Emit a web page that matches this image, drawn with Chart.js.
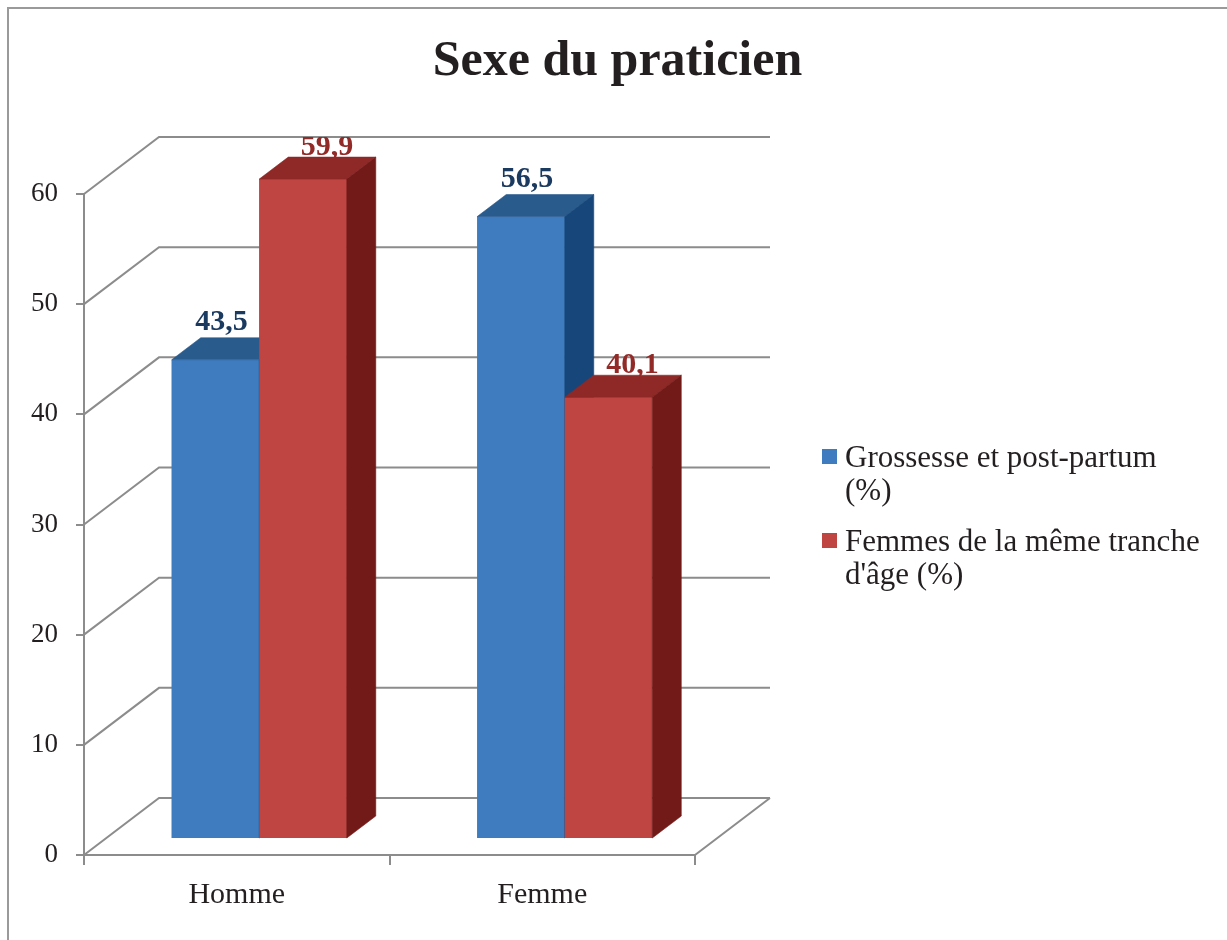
<!DOCTYPE html>
<html><head><meta charset="utf-8">
<script src="https://cdn.jsdelivr.net/npm/chart.js@4.4.0/dist/chart.umd.min.js"></script>
<style>html,body{margin:0;padding:0;background:#fff}canvas{display:block}</style>
</head><body>
<canvas id="c" width="1227" height="940"></canvas>
<script>
// ---- data ----
const chartTitle = 'Sexe du praticien';
const categories = ['Homme', 'Femme'];
const seriesLabels = [['Grossesse et post-partum', '(%)'], ['Femmes de la même tranche', "d'âge (%)"]];
const grossesse = [43.5, 56.5];
const femmesMemeAge = [59.9, 40.1];
const yTicks = [0, 10, 20, 30, 40, 50, 60];

// ---- style ----
const FONT = '"Liberation Serif", "Times New Roman", serif';
const TEXT = '#231f20';
const GRID = '#8c8c8c';
const WALL = {dx: 75, dy: -57};
const SHIFT = {dx: 22.5, dy: -16};
const BDEPTH = {dx: 29, dy: -22};
const FRONT = ['#3F7CBF', '#BF4543'];
const TOP = ['#2A5B8D', '#8E2927'];
const SIDE = ['#17477A', '#721A18'];
const LABEL = ['#1B3A60', '#922B28'];
const LABEL_OFF = [{x: 6, y: -30}, {x: 24, y: -24}];

function poly(ctx, pts, fill) {
  ctx.beginPath();
  ctx.moveTo(pts[0][0], pts[0][1]);
  for (let i = 1; i < pts.length; i++) ctx.lineTo(pts[i][0], pts[i][1]);
  ctx.closePath();
  ctx.fillStyle = fill;
  ctx.fill();
  ctx.strokeStyle = fill; ctx.lineWidth = 0.6; ctx.stroke();
}

const sketch = {
  id: 'sketch',
  beforeDraw(chart) {
    const ctx = chart.ctx;
    ctx.save();
    ctx.fillStyle = '#fff';
    ctx.fillRect(0, 0, chart.width, chart.height);
    ctx.strokeStyle = '#9a9a9a'; ctx.lineWidth = 2;
    ctx.beginPath(); ctx.moveTo(8, chart.height); ctx.lineTo(8, 8); ctx.lineTo(chart.width, 8); ctx.stroke();
    ctx.fillStyle = TEXT; ctx.font = 'bold 50px ' + FONT;
    ctx.textAlign = 'center'; ctx.textBaseline = 'alphabetic';
    ctx.fillText(chartTitle, 617.5, 75);
    ctx.restore();
  },
  beforeDatasetsDraw(chart) {
    const ctx = chart.ctx, y = chart.scales.y, a = chart.chartArea;
    ctx.save();
    ctx.strokeStyle = GRID; ctx.lineWidth = 2; ctx.lineJoin = 'miter';
    ctx.beginPath();
    yTicks.forEach(v => {
      const py = y.getPixelForValue(v);
      ctx.moveTo(a.left, py);
      ctx.lineTo(a.left + WALL.dx, py + WALL.dy);
      ctx.lineTo(a.right + WALL.dx, py + WALL.dy);
    });
    const p0 = y.getPixelForValue(0);
    ctx.moveTo(a.right, p0);
    ctx.lineTo(a.right + WALL.dx, p0 + WALL.dy);
    ctx.stroke();
    ctx.restore();
    ctx.save();
    ctx.translate(SHIFT.dx, SHIFT.dy);
  },
  afterDatasetsDraw(chart) {
    const ctx = chart.ctx;
    const metas = chart.data.datasets.map((d, i) => chart.getDatasetMeta(i));
    categories.forEach((c, j) => {
      metas.forEach((m, i) => {
        const el = m.data[j];
        const p = el.getProps(['x', 'y', 'base', 'width'], true);
        const l = p.x - p.width / 2, r = p.x + p.width / 2;
        el.draw(ctx);
        poly(ctx, [[l, p.y], [l + BDEPTH.dx, p.y + BDEPTH.dy], [r + BDEPTH.dx, p.y + BDEPTH.dy], [r, p.y]], TOP[i]);
        poly(ctx, [[r, p.y], [r + BDEPTH.dx, p.y + BDEPTH.dy], [r + BDEPTH.dx, p.base + BDEPTH.dy], [r, p.base]], SIDE[i]);
      });
    });
    ctx.restore();
    // value labels
    const y = chart.scales.y;
    const clipTop = y.getPixelForValue(yTicks[yTicks.length - 1]) + WALL.dy;
    ctx.save();
    ctx.beginPath(); ctx.rect(0, clipTop, chart.width, chart.height - clipTop); ctx.clip();
    ctx.font = 'bold 30px ' + FONT; ctx.textAlign = 'center'; ctx.textBaseline = 'alphabetic';
    metas.forEach((m, i) => {
      const vals = chart.data.datasets[i].data;
      m.data.forEach((el, j) => {
        const p = el.getProps(['x', 'y'], true);
        ctx.fillStyle = LABEL[i];
        ctx.fillText(vals[j].toFixed(1).replace('.', ','), p.x + SHIFT.dx + LABEL_OFF[i].x, p.y + SHIFT.dy + LABEL_OFF[i].y);
      });
    });
    ctx.restore();
  },
  afterDraw(chart) {
    const ctx = chart.ctx;
    ctx.save();
    ctx.font = '31px ' + FONT; ctx.fillStyle = TEXT; ctx.textAlign = 'left'; ctx.textBaseline = 'alphabetic';
    const starts = [467, 551];
    seriesLabels.forEach((lines, i) => {
      ctx.fillStyle = FRONT[i];
      ctx.fillRect(822, starts[i] - 18, 15, 15);
      ctx.fillStyle = TEXT;
      lines.forEach((t, k) => ctx.fillText(t, 845, starts[i] + k * 33));
    });
    ctx.restore();
  }
};

new Chart(document.getElementById('c'), {
  type: 'bar',
  data: {
    labels: categories,
    datasets: [
      {label: seriesLabels[0].join(' '), data: grossesse, backgroundColor: FRONT[0]},
      {label: seriesLabels[1].join(' '), data: femmesMemeAge, backgroundColor: FRONT[1]}
    ]
  },
  options: {
    responsive: false,
    animation: false,
    devicePixelRatio: 1,
    layout: {padding: {left: 0, top: 194, right: 532, bottom: 0}},
    datasets: {bar: {categoryPercentage: 0.573, barPercentage: 1, borderWidth: 0}},
    plugins: {legend: {display: false}, title: {display: false}, tooltip: {enabled: false}},
    scales: {
      x: {
        grid: {display: true, offset: true, drawOnChartArea: false, tickLength: 10, color: GRID, lineWidth: 2},
        border: {display: true, color: GRID, width: 2},
        ticks: {font: {family: FONT, size: 30}, color: TEXT, padding: 12},
        afterFit(s) { s.height = 85; }
      },
      y: {
        min: 0, max: 60,
        grid: {display: true, drawOnChartArea: false, tickLength: 8, color: GRID, lineWidth: 2},
        border: {display: true, color: GRID, width: 2},
        ticks: {stepSize: 10, font: {family: FONT, size: 27}, color: TEXT, padding: 18},
        afterFit(s) { s.width = 84; }
      }
    }
  },
  plugins: [sketch]
});
</script>
</body></html>
